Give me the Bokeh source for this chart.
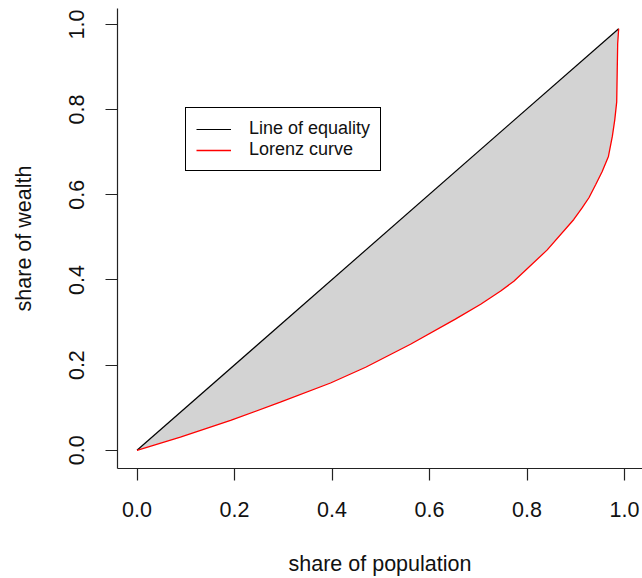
from bokeh.plotting import figure
from bokeh.models import Range1d, FixedTicker, Legend, LegendItem
from bokeh.embed import file_html
from bokeh.resources import INLINE

# ---- data ----
share_pop = [0.000, 0.089, 0.192, 0.294, 0.397, 0.469, 0.561, 0.653, 0.705, 0.746,
             0.773, 0.841, 0.896, 0.913, 0.927, 0.941, 0.954, 0.967, 0.975, 0.980,
             0.984, 0.985, 0.986, 0.988]
lorenz = [0.000, 0.031, 0.070, 0.113, 0.158, 0.195, 0.249, 0.308, 0.343, 0.374,
          0.397, 0.470, 0.542, 0.569, 0.593, 0.624, 0.654, 0.690, 0.737, 0.776,
          0.818, 0.888, 0.955, 0.990]
equality_x = [0.0, 0.988]
equality_y = [0.0, 0.990]
tick_values = [0.0, 0.2, 0.4, 0.6, 0.8, 1.0]
tick_labels = ["0.0", "0.2", "0.4", "0.6", "0.8", "1.0"]
legend_labels = ["Line of equality", "Lorenz curve"]

FONT = "Liberation Sans"
TXT = "#111111"

p = figure(width=642, height=578, output_backend="svg", toolbar_location=None,
           x_range=Range1d(-0.04, 1.0369), y_range=Range1d(-0.0428, 1.0374),
           min_border_left=117, min_border_right=0, min_border_top=8, min_border_bottom=108)
p.grid.visible = False
p.outline_line_color = None
p.background_fill_color = "white"
p.border_fill_color = "white"

# shaded area between the equality line and the Lorenz curve
poly_x = equality_x + share_pop[::-1]
poly_y = equality_y + lorenz[::-1]
p.patch(poly_x, poly_y, fill_color="#D3D3D3", line_color=None)

eq = p.line(equality_x, equality_y, line_color="black", line_width=1.2)
lc = p.line(share_pop, lorenz, line_color="#FF0000", line_width=1.3)

overrides = {v: s for v, s in zip(tick_values, tick_labels)}
for ax in (p.xaxis[0], p.yaxis[0]):
    ax.ticker = FixedTicker(ticks=tick_values)
    ax.major_label_overrides = overrides
    ax.minor_tick_line_color = None
    ax.major_tick_in = 0
    ax.major_tick_out = 12
    ax.major_tick_line_color = "#222222"
    ax.major_tick_line_width = 1.2
    ax.axis_line_color = "#222222"
    ax.axis_line_width = 1.2
    ax.major_label_text_font = FONT
    ax.major_label_text_font_size = "21.5px"
    ax.major_label_text_color = TXT
    ax.axis_label_text_font = FONT
    ax.axis_label_text_font_size = "21.5px"
    ax.axis_label_text_font_style = "normal"
    ax.axis_label_text_color = TXT

p.xaxis.axis_label = "share of population"
p.xaxis.major_label_standoff = 21
p.xaxis.axis_label_standoff = 32
p.yaxis.axis_label = "share of wealth"
p.yaxis.major_label_orientation = "vertical"
p.yaxis.major_label_standoff = 21
p.yaxis.axis_label_standoff = 31

legend = Legend(items=[LegendItem(label=legend_labels[0], renderers=[eq]),
                       LegendItem(label=legend_labels[1], renderers=[lc])],
                location=(68, 297), orientation="vertical",
                label_text_font=FONT, label_text_font_size="18px", label_text_color=TXT,
                glyph_width=35, glyph_height=20, label_height=20, label_standoff=18,
                padding=10, spacing=0, margin=0,
                border_line_color="black", border_line_width=1, border_line_alpha=1,
                background_fill_color="white", background_fill_alpha=1)
p.add_layout(legend, "center")

open("out.html", "w").write(file_html(p, INLINE))
